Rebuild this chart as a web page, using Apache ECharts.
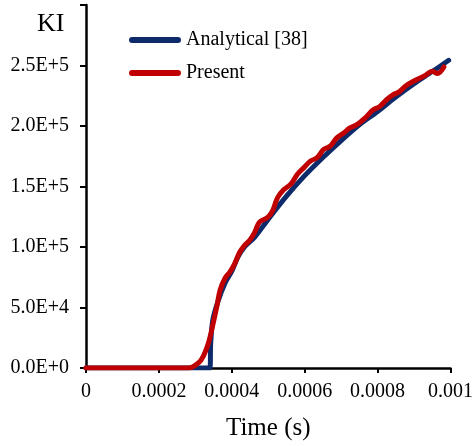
<!DOCTYPE html>
<html>
<head>
<meta charset="utf-8">
<script src="https://cdn.jsdelivr.net/npm/echarts@6/dist/echarts.min.js"></script>
<style>
  html, body { margin: 0; padding: 0; background: #fff; }
  #chart { width: 476px; height: 446px; }
</style>
</head>
<body>
<div id="chart"></div>
<script>
// time (s) and KI
const analyticalT = [0, 0.00034, 0.000342, 0.000348, 0.000362, 0.000381, 0.0004, 0.000417, 0.000435, 0.000463, 0.0005, 0.00055, 0.0006, 0.00065, 0.0007, 0.00075, 0.0008, 0.00085, 0.0009, 0.00095, 0.000995]
const analyticalK = [0, 0, 20000, 40000, 55000, 69900, 80000, 91800, 100000, 108200, 123000, 142000, 159000, 174000, 188000, 201000, 212000, 224000, 235000, 245000, 254300]

const presentT = [0, 0.00028, 0.000309, 0.000322, 0.000336, 0.000347, 0.000359, 0.000368, 0.000381, 0.000395, 0.000408, 0.000422, 0.000435, 0.000449, 0.000463, 0.000476, 0.000499, 0.000512, 0.000526, 0.000544, 0.000562, 0.00058, 0.000598, 0.000616, 0.000634, 0.000652, 0.00067, 0.000688, 0.000707, 0.000724, 0.000743, 0.00076, 0.00077, 0.000788, 0.000806, 0.000824, 0.000842, 0.00086, 0.000878, 0.000896, 0.000914, 0.000932, 0.00095, 0.000964, 0.000982]
const presentK = [0, 0, 4400, 9800, 20700, 34400, 50800, 64500, 74000, 79500, 86300, 95900, 101400, 105500, 112300, 120500, 124600, 130000, 141000, 147800, 151900, 160100, 165600, 171000, 173800, 180600, 183400, 190200, 194300, 198400, 201100, 205200, 207900, 213400, 216100, 221600, 225700, 228400, 233300, 236600, 239300, 242000, 245300, 243400, 248900]

const xTicks = [0, 0.0002, 0.0004, 0.0006, 0.0008, 0.001]

const font = 'Liberation Serif'
const pairs = (xs, ys) => xs.map((x, i) => [x, ys[i]])

// 2.5E+5 style labels
const sciLabel = v => {
  if (v === 0) return '0.0E+0'
  if (v >= 300000) return ''
  const exp = Math.floor(Math.log10(v))
  return (v / Math.pow(10, exp)).toFixed(1) + 'E+' + exp
}

const chart = echarts.init(document.getElementById('chart'))
chart.setOption({
  animation: false,
  grid: { left: 86, right: 17, top: 5, bottom: 70 },
  title: {
    text: 'KI', left: 32, top: 6,
    textStyle: { fontFamily: font, fontSize: 26, fontWeight: 'normal', color: '#000' }
  },
  legend: {
    orient: 'vertical', left: 124, top: 25, itemGap: 13,
    itemWidth: 52, itemHeight: 6,
    icon: 'path://M3,0 L49,0 A3,3 0 0 1 49,6 L3,6 A3,3 0 0 1 3,0 Z',
    textStyle: { fontFamily: font, fontSize: 20, color: '#000' },
    data: ['Analytical [38]', 'Present']
  },
  xAxis: {
    type: 'value', min: 0, max: 0.001, interval: 0.0002,
    name: 'Time (s)', nameLocation: 'middle', nameGap: 48,
    nameTextStyle: { fontFamily: font, fontSize: 25, color: '#000' },
    axisLine: { lineStyle: { color: '#000', width: 2.5 } },
    axisTick: { show: true, length: 5, lineStyle: { color: '#000', width: 2 } },
    axisLabel: {
      fontFamily: font, fontSize: 20, color: '#000', margin: 14,
      formatter: v => xTicks.includes(+v.toPrecision(6)) ? String(+v.toPrecision(6)) : ''
    },
    splitLine: { show: false }
  },
  yAxis: {
    type: 'value', min: 0, max: 300000, interval: 50000,
    axisLine: { show: true, lineStyle: { color: '#000', width: 2.5 } },
    axisTick: { show: true, length: 6, lineStyle: { color: '#000', width: 2 } },
    axisLabel: { fontFamily: font, fontSize: 20, color: '#000', margin: 17, formatter: sciLabel },
    splitLine: { show: false }
  },
  series: [
    {
      name: 'Analytical [38]', type: 'line', data: pairs(analyticalT, analyticalK),
      smooth: 0.3, showSymbol: false, color: '#0d2b6b',
      lineStyle: { width: 5, cap: 'round', join: 'round' }
    },
    {
      name: 'Present', type: 'line', data: pairs(presentT, presentK),
      smooth: 0.4, showSymbol: false, color: '#c00000',
      lineStyle: { width: 5, cap: 'round', join: 'round' }
    }
  ]
})
</script>
</body>
</html>
